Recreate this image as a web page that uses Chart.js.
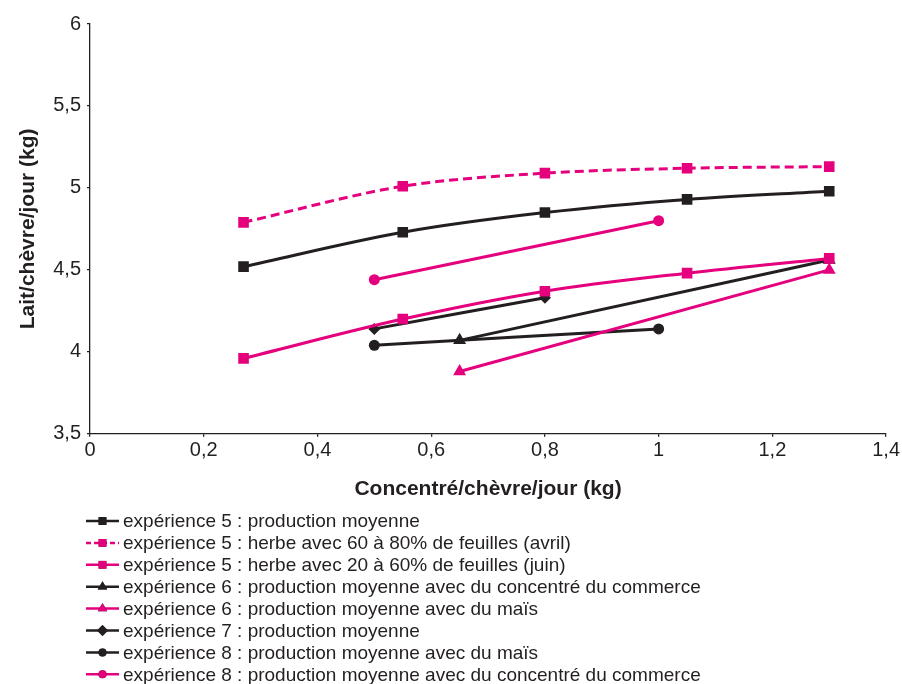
<!DOCTYPE html>
<html>
<head>
<meta charset="utf-8">
<script src="https://cdn.jsdelivr.net/npm/chart.js@4"></script>
<style>
  body { margin: 0; background: #fff; }
  #wrap { width: 902px; height: 684px; }
</style>
</head>
<body>
<div id="wrap"><canvas id="laitChart"></canvas></div>
<script>
// valeurs
const seriesNames = [
    'expérience 5 : production moyenne',
    'expérience 5 : herbe avec 60 à 80% de feuilles (avril)',
    'expérience 5 : herbe avec 20 à 60% de feuilles (juin)',
    'expérience 6 : production moyenne avec du concentré du commerce',
    'expérience 6 : production moyenne avec du maïs',
    'expérience 7 : production moyenne',
    'expérience 8 : production moyenne avec du maïs',
    'expérience 8 : production moyenne avec du concentré du commerce'
];
const concentreExp5 = [0.27, 0.55, 0.8, 1.05, 1.3];
const laitExp5Moy = [4.52, 4.73, 4.85, 4.93, 4.98];
const laitExp5Avril = [4.79, 5.01, 5.09, 5.12, 5.13];
const laitExp5Juin = [3.96, 4.2, 4.37, 4.48, 4.57];
const concentreExp6 = [0.65, 1.3];
const laitExp6Commerce = [4.07, 4.56];
const laitExp6Mais = [3.88, 4.5];
const concentreExp7 = [0.5, 0.8];
const laitExp7 = [4.14, 4.33];
const concentreExp8 = [0.5, 1.0];
const laitExp8Mais = [4.04, 4.14];
const laitExp8Commerce = [4.44, 4.8];

const NOIR = '#231f20';
const ROSE = '#e5007d';
const POLICE = '"Liberation Sans", Arial, sans-serif';

function pts(xs, ys) {
    return xs.map((x, i) => ({ x: x, y: ys[i] }));
}

function serie(label, xs, ys, color, style, radius, dashed) {
    return {
        label: label,
        data: pts(xs, ys),
        borderColor: color,
        backgroundColor: color,
        borderWidth: 3,
        borderDash: dashed ? [9, 5] : [],
        pointStyle: style,
        pointRadius: radius,
        pointBorderWidth: 0,
        tension: 0.3,
        cubicInterpolationMode: 'monotone'
    };
}

const datasets = [
    serie(seriesNames[0], concentreExp5, laitExp5Moy, NOIR, 'rect', 7.5, false),
    serie(seriesNames[1], concentreExp5, laitExp5Avril, ROSE, 'rect', 7.5, true),
    serie(seriesNames[2], concentreExp5, laitExp5Juin, ROSE, 'rect', 7.5, false),
    serie(seriesNames[3], concentreExp6, laitExp6Commerce, NOIR, 'triangle', 7.5, false),
    serie(seriesNames[4], concentreExp6, laitExp6Mais, ROSE, 'triangle', 7.5, false),
    serie(seriesNames[5], concentreExp7, laitExp7, NOIR, 'rectRot', 6, false),
    serie(seriesNames[6], concentreExp8, laitExp8Mais, NOIR, 'circle', 5.5, false),
    serie(seriesNames[7], concentreExp8, laitExp8Commerce, ROSE, 'circle', 5.5, false)
];

// légende dessinée sous le graphique, une ligne par série
const legendeBas = {
    id: 'legendeBas',
    afterDraw(chart) {
        const ctx = chart.ctx;
        ctx.save();
        ctx.font = '19px ' + POLICE;
        ctx.textBaseline = 'middle';
        chart.data.datasets.forEach((ds, i) => {
            const y = 521 + i * 21.9;
            ctx.strokeStyle = ds.borderColor;
            ctx.lineWidth = 2.5;
            ctx.setLineDash(ds.borderDash.length ? [5, 3] : []);
            ctx.beginPath();
            ctx.moveTo(86, y);
            ctx.lineTo(119, y);
            ctx.stroke();
            ctx.setLineDash([]);
            Chart.helpers.drawPoint(ctx, {
                pointStyle: ds.pointStyle,
                radius: ds.pointStyle === 'circle' ? 4 : 5.5,
                rotation: 0,
                borderWidth: 0
            }, 102.5, y);
            ctx.fillStyle = ds.backgroundColor;
            ctx.fill();
            ctx.fillStyle = NOIR;
            ctx.fillText(ds.label, 123, y + 1);
        });
        ctx.restore();
    }
};

const virgule = v => String(Math.round(v * 10) / 10).replace('.', ',');

new Chart(document.getElementById('laitChart'), {
    type: 'line',
    data: { datasets: datasets },
    plugins: [legendeBas],
    options: {
        responsive: true,
        maintainAspectRatio: false,
        animation: false,
        layout: { padding: { top: 24, right: 7, bottom: 178, left: 12 } },
        plugins: {
            legend: { display: false },
            tooltip: { enabled: false }
        },
        scales: {
            x: {
                type: 'linear',
                min: 0,
                max: 1.4,
                ticks: {
                    stepSize: 0.2,
                    color: NOIR,
                    font: { size: 20, family: POLICE },
                    callback: virgule,
                    padding: 2
                },
                grid: { drawOnChartArea: false, color: NOIR, tickLength: 3, lineWidth: 1.3 },
                border: { color: NOIR, width: 1.3 },
                title: {
                    display: true,
                    text: 'Concentré/chèvre/jour (kg)',
                    color: NOIR,
                    font: { size: 21, weight: 'bold', family: POLICE },
                    padding: { top: 12 }
                }
            },
            y: {
                min: 3.5,
                max: 6,
                ticks: {
                    stepSize: 0.5,
                    color: NOIR,
                    font: { size: 20, family: POLICE },
                    callback: virgule,
                    padding: 6
                },
                grid: { drawOnChartArea: false, color: NOIR, tickLength: 3, lineWidth: 1.3 },
                border: { color: NOIR, width: 1.3 },
                title: {
                    display: true,
                    text: 'Lait/chèvre/jour (kg)',
                    color: NOIR,
                    font: { size: 21, weight: 'bold', family: POLICE },
                    padding: { bottom: 6 }
                }
            }
        }
    }
});
</script>
</body>
</html>
